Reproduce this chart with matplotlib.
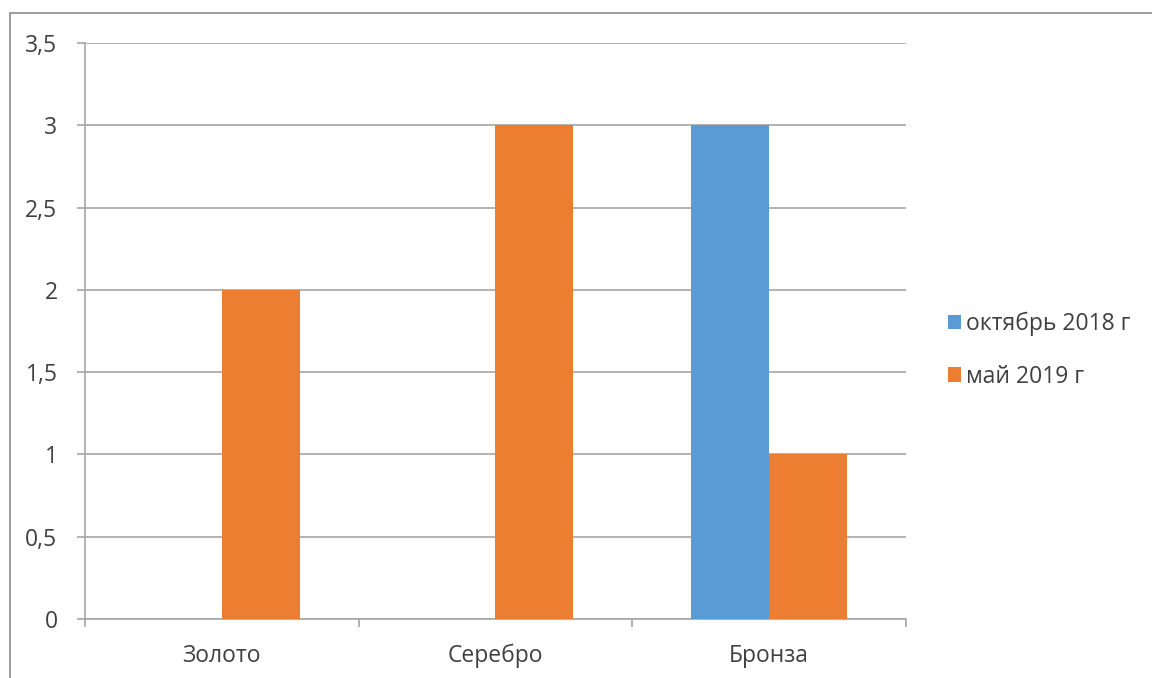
import matplotlib
matplotlib.use("Agg")
import matplotlib.pyplot as plt
import numpy as np
from matplotlib.patches import Rectangle

categories = ["Золото", "Серебро", "Бронза"]
oct_2018 = [0, 0, 3]
may_2019 = [2, 3, 1]
series_names = ["октябрь 2018 г", "май 2019 г"]
yticks = [0, 0.5, 1, 1.5, 2, 2.5, 3, 3.5]
ytick_labels = ["0", "0,5", "1", "1,5", "2", "2,5", "3", "3,5"]

plt.rcParams["font.family"] = ["Open Sans", "DejaVu Sans"]
GRID = "#a6a6a6"
TXT = "#404040"
FS = 16.5

fig = plt.figure(figsize=(11.52, 6.78), dpi=100)
# outer chart border (top and left visible)
fig.patches.append(Rectangle((10/1152, -0.05), 1.2, 0.05 + (1 - 13/678), transform=fig.transFigure,
                             fill=False, edgecolor="#8c8c8c", lw=1.2))
ax = fig.add_axes([85/1152, 1 - 619/678, (906-85)/1152, (619-43)/678])

x = np.arange(len(categories))
w = 0.285
ax.bar(x - w/2, oct_2018, w, color="#5B9BD5", label=series_names[0], zorder=3)
ax.bar(x + w/2, may_2019, w, color="#ED7D31", label=series_names[1], zorder=3)

ax.set_xlim(-0.5, 2.5)
ax.set_ylim(0, 3.5)
ax.set_yticks(yticks)
ax.set_yticklabels(ytick_labels)
ax.set_xticks(x)
ax.set_xticklabels(categories)
ax.set_xticks(np.arange(-0.5, 3, 1), minor=True)
ax.tick_params(axis="x", which="major", length=0, pad=18, labelsize=FS, labelcolor=TXT)
ax.tick_params(axis="x", which="minor", length=6, color=GRID, width=1.2, direction="out")
ax.tick_params(axis="y", length=5.8, color=GRID, width=1.2, pad=14, labelsize=FS, labelcolor=TXT)
ax.yaxis.grid(True, color=GRID, lw=1.2, zorder=0)
for s in ["top", "right"]:
    ax.spines[s].set_visible(False)
for s in ["left", "bottom"]:
    ax.spines[s].set_color(GRID)
    ax.spines[s].set_linewidth(1.2)

fig.legend(loc="center left", bbox_to_anchor=(927/1152, 1 - 350/678), frameon=False,
           fontsize=FS, handlelength=0.6, handleheight=0.6, handletextpad=0.2,
           labelspacing=1.25, labelcolor=TXT)

fig.savefig("out.png", dpi=100)
